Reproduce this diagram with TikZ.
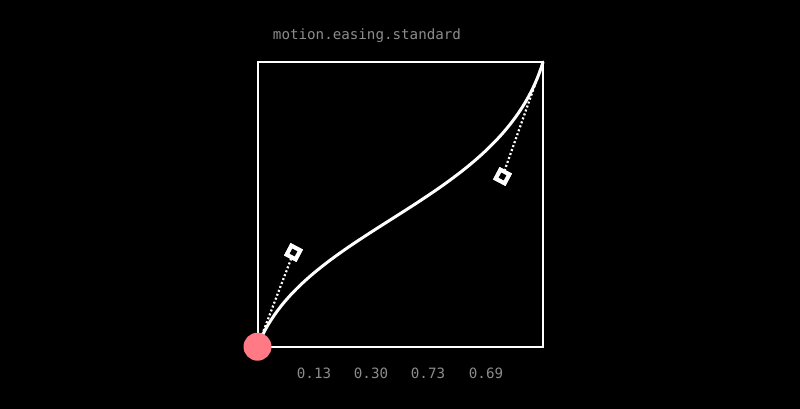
\documentclass[tikz,border=0pt]{standalone}
\usepackage{fontspec}
\setmonofont{DejaVu Sans Mono}
\definecolor{labelgray}{HTML}{8C8C8C}
\definecolor{dotpink}{HTML}{FF7A85}
\tikzset{
  lbl/.style={font=\ttfamily\fontsize{14.2}{17}\selectfont, text=labelgray, inner sep=0pt},
  handle/.style={draw=white, fill=black, line width=4pt, minimum size=10pt, inner sep=0pt, rectangle, rotate=-28},
  guide/.style={draw=white, line width=2.2pt, dash pattern=on 2pt off 2.2pt},
}
\begin{document}
\begin{tikzpicture}[x=1pt,y=-1pt]
\fill[black] (0,0) rectangle (800,409);
\useasboundingbox (0,0) rectangle (800,409);
\coordinate (s) at (257.5,346.7);
\coordinate (e) at (543,62);
\coordinate (c1) at (303.2,227.1);
\coordinate (c2) at (500.2,204.4);
\node[handle] (h1) at (293.5,252.5) {};
\node[handle] (h2) at (502.5,176.5) {};
\draw[guide] (s) -- (h1);
\draw[guide] (e) -- (h2);
\draw[white, line width=2pt] (s) rectangle (e);
\draw[white, line width=3pt, line cap=round] (s) .. controls (c1) and (c2) .. (e);
\node[handle] at (h1) {};
\node[handle] at (h2) {};
\node[circle, fill=dotpink, minimum size=28pt, inner sep=0pt] (p) at (s) {};
\node[lbl] (title) at (367,36) {motion.easing.standard};
\node[lbl] (n1) at (314,373) {0.13};
\node[lbl] (n2) at (371,373) {0.30};
\node[lbl] (n3) at (428,373) {0.73};
\node[lbl] (n4) at (486,373) {0.69};
\end{tikzpicture}
\end{document}
